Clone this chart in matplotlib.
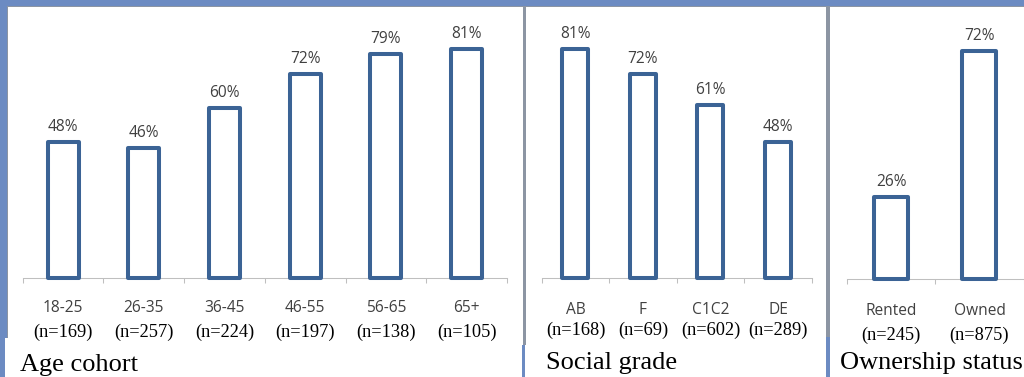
import matplotlib
matplotlib.use("Agg")
import matplotlib.pyplot as plt
from matplotlib.patches import Rectangle

# Survey results by respondent group
age_groups = ["18-25", "26-35", "36-45", "46-55", "56-65", "65+"]
age_n = [169, 257, 224, 197, 138, 105]
age_pct = [48, 46, 60, 72, 79, 81]

grade_groups = ["AB", "F", "C1C2", "DE"]
grade_n = [168, 69, 602, 289]
grade_pct = [81, 72, 61, 48]

owner_groups = ["Rented", "Owned"]
owner_n = [245, 875]
owner_pct = [26, 72]

titles = ["Age cohort", "Social grade", "Ownership status"]

W, H = 1024, 377
fig = plt.figure(figsize=(W / 100, H / 100), dpi=100)
fig.patch.set_facecolor("white")

BAR = "#3B6395"
AXIS = "#BFBFBF"
TXT = "#404040"
BAND = "#6C8BC2"
GRAY = "#8C95A3"
SANS = ["Open Sans", "DejaVu Sans"]
SERIF = ["Liberation Serif", "DejaVu Serif"]


def frame_rect(x0, y0, x1, y1, color):
    # rectangle given in pixel coordinates measured from the top-left corner
    fig.patches.append(Rectangle((x0 / W, 1 - y1 / H), (x1 - x0) / W, (y1 - y0) / H,
                                 transform=fig.transFigure, facecolor=color,
                                 edgecolor="none", zorder=0))


# outer frame and panel dividers
frame_rect(0, 0, W, 6, BAND)
frame_rect(0, 0, 7, 338, BAND)
frame_rect(0, 338, 5, H, BAND)
frame_rect(7, 6, W, 7, GRAY)
frame_rect(7, 6, 8, 338, GRAY)
frame_rect(522.5, 6, 525.5, 345, GRAY)
frame_rect(522, 345, 525, H, BAND)
frame_rect(826, 6, 830, 337, GRAY)
frame_rect(826, 337, 830, H, BAND)


def panel(cats, ns, vals, x0, x1, base, px_per_pct, cat_off, n_off):
    left = x0 / W
    bottom = 1 - base / H
    width = (x1 - x0) / W
    height = (base - 8) / H
    ax = fig.add_axes([left, bottom, width, height])
    ax.patch.set_visible(False)
    n = len(cats)
    ax.set_xlim(-0.5, n - 0.5)
    ax.set_ylim(0, (base - 8) / px_per_pct)
    for s in ["top", "left", "right"]:
        ax.spines[s].set_visible(False)
    ax.spines["bottom"].set_color(AXIS)
    ax.spines["bottom"].set_linewidth(0.75)
    ax.set_yticks([])
    ax.set_xticks([i - 0.5 for i in range(n + 1)])
    ax.set_xticklabels([])
    ax.tick_params(axis="x", direction="out", length=3.6, width=0.75, color=AXIS)

    xs = list(range(n))
    ax.bar(xs, vals, width=0.385, facecolor="white", edgecolor=BAR,
           linewidth=2.9, joinstyle="round", zorder=3, clip_on=False)
    for x, v, c, k in zip(xs, vals, cats, ns):
        ax.annotate(f"{v}%", xy=(x, v), xytext=(0, 11), textcoords="offset pixels",
                    ha="center", va="baseline", fontsize=11.2, color=TXT,
                    family=SANS, annotation_clip=False)
        ax.annotate(c, xy=(x, 0), xytext=(0, -cat_off), textcoords="offset pixels",
                    ha="center", va="baseline", fontsize=11.2, color=TXT,
                    family=SANS, annotation_clip=False)
        ax.annotate(f"(n={k})", xy=(x, 0), xytext=(0, -n_off), textcoords="offset pixels",
                    ha="center", va="baseline", fontsize=13.2, color="black",
                    family=SERIF, annotation_clip=False)
    return ax


panel(age_groups, age_n, age_pct, 22.7, 507, 278, 2.83, 33.5, 59)
panel(grade_groups, grade_n, grade_pct, 541.7, 811.7, 278, 2.83, 35.5, 57)
panel(owner_groups, owner_n, owner_pct, 847.3, 1023.5, 279.3, 3.17, 36, 61)

# panel captions
for t, x, y in zip(titles, [20.5, 545.5, 840.5], [370.5, 369.5, 369.5]):
    fig.text(x / W, 1 - y / H, t, ha="left", va="baseline", fontsize=19,
             family=SERIF, color="black")

fig.savefig("out.png", dpi=100)
